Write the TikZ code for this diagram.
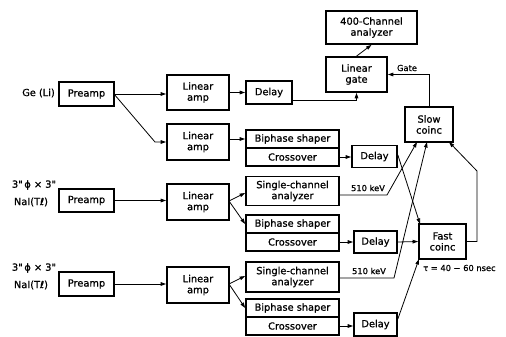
\documentclass[tikz,border=0pt]{standalone}
\usepackage{fontspec}
\setmainfont{DejaVu Sans}
\newfontfamily\medfont[RawFeature={embolden=0.9}]{DejaVu Sans}
\usetikzlibrary{arrows.meta,calc}
\begin{document}
\begin{tikzpicture}[x=1pt,y=-1pt,
  box/.style={draw,line width=1.7pt,inner sep=0pt,align=center,
    font=\medfont\fontsize{9.8}{11}\selectfont},
  arr/.style={line width=0.8pt,-{Triangle[length=5.5pt,width=3.6pt]}},
  lbl/.style={font=\medfont\fontsize{9.8}{11}\selectfont,inner sep=0pt,align=center},
  small/.style={font=\medfont\fontsize{8.3}{9}\selectfont,inner sep=0pt}]
\useasboundingbox (0,0) rectangle (506,337);
% top chain
\node[box,minimum width=55,minimum height=24] (pre1) at (86.5,94) {Preamp};
\node[box,minimum width=62,minimum height=35] (la1) at (198,92.5) {Linear\\amp};
\node[box,minimum width=46,minimum height=23] (del1) at (269,92.5) {Delay};
\node[box,minimum width=62,minimum height=36] (la2) at (198,142) {Linear\\amp};
\node[box,minimum width=93,minimum height=18] (bs1) at (292.5,139) {Biphase shaper};
\node[box,minimum width=93,minimum height=18] (co1) at (292.5,157) {Crossover};
\node[box,minimum width=45,minimum height=22] (del2) at (374.5,156.5) {Delay};
\node[box,minimum width=91,minimum height=33] (an) at (371.5,27.5) {400-Channel\\analyzer};
\node[box,minimum width=61,minimum height=35] (gate) at (356.5,74.5) {Linear\\gate};
\node[box,minimum width=48,minimum height=35] (slow) at (429,124.5) {Slow\\coinc};
% second detector
\node[box,minimum width=55,minimum height=23] (pre2) at (86.5,200.5) {Preamp};
\node[box,minimum width=62,minimum height=36] (la3) at (198,202) {Linear\\amp};
\node[box,minimum width=93,minimum height=29] (sca1) at (292.5,191) {Single-channel\\analyzer};
\node[box,minimum width=93,minimum height=18] (bs2) at (292.5,224) {Biphase shaper};
\node[box,minimum width=93,minimum height=18] (co2) at (292.5,242) {Crossover};
\node[box,minimum width=43,minimum height=22] (del3) at (375.5,242) {Delay};
\node[box,minimum width=47,minimum height=35] (fast) at (442.5,241.5) {Fast\\coinc};
% third detector
\node[box,minimum width=55,minimum height=24] (pre3) at (86.5,284) {Preamp};
\node[box,minimum width=62,minimum height=36] (la4) at (198,285) {Linear\\amp};
\node[box,minimum width=93,minimum height=30] (sca2) at (292.5,277) {Single-channel\\analyzer};
\node[box,minimum width=93,minimum height=18] (bs3) at (292.5,308) {Biphase shaper};
\node[box,minimum width=93,minimum height=18] (co3) at (292.5,326) {Crossover};
\node[box,minimum width=43,minimum height=23] (del4) at (375.5,324.5) {Delay};
% labels
\node[lbl,anchor=east] (ge) at (55,93) {Ge (Li)};
\node[lbl] (na1a) at (34,185) {3\char"22\,ϕ × 3\char"22};
\node[lbl] (na1b) at (31,202) {NaI(Tℓ)};
\node[lbl] (na2a) at (34,268) {3\char"22\,ϕ × 3\char"22};
\node[lbl] (na2b) at (31,285) {NaI(Tℓ)};
\node[small] (kev1) at (368,188) {510 keV};
\node[small] (kev2) at (369,271) {510 keV};
\node[small] (gatelbl) at (407,68) {Gate};
\node[small,anchor=west] (tau) at (423,268) {τ = 40 − 60 nsec};
% connectors
\draw[arr] (pre1.east) -- (pre1.east -| la1.west);
\coordinate (k1) at (155,142);
\draw[arr] ([yshift=-1]pre1.east) -- (k1) -- (la2.west);
\draw[arr] (la1.east |- del1.west) -- (del1.west);
\draw[arr] ([yshift=-7.5]del1.east) -| (gate.south);
\draw[arr] (gate.north) -- (an.south);
\draw[arr] (slow.north) |- (gate.east);
\draw[arr] (la2.east |- bs1.west) -- (bs1.west);
\draw[arr] (co1.east) -- (co1.east -| del2.west);
\coordinate (f1) at (420,224);
\draw[arr] ([yshift=1.5]del2.east) -- (f1);
% second
\draw[arr] (pre2.east) -- (pre2.east -| la3.west);
\coordinate (s3) at (229,201);
\draw[arr] (s3) -- ([yshift=-2]sca1.west);
\draw[arr] (s3) -- (bs2.west);
\coordinate (k2) at (387,195);
\coordinate (sl1) at (417,142);
\draw[arr] (sca1.east |- k2) -- (k2) -- (sl1);
\draw[arr] (co2.east) -- (del3.west);
\draw[arr] (del3.east) -- (fast.west);
% third
\draw[arr] (pre3.east) -- (pre3.east -| la4.west);
\coordinate (s4) at (229,284);
\draw[arr] (s4) -- ([yshift=1]sca2.west);
\draw[arr] (s4) -- (bs3.west);
\coordinate (k3) at (394,278);
\coordinate (sl2) at (427,142);
\draw[arr] (sca2.east |- k3) -- (k3) -- (sl2);
\draw[arr] (co3.east) -- (co3.east -| del4.west);
\coordinate (f2) at (419,259);
\draw[arr] ([yshift=5.5]del4.east) -- (f2);
% fast to slow
\coordinate (r1) at (477,241.5);
\coordinate (r2) at (477,171);
\coordinate (sl3) at (449,142);
\draw[arr] (fast.east) -- (r1) -- (r2) -- (sl3);
\end{tikzpicture}
\end{document}
